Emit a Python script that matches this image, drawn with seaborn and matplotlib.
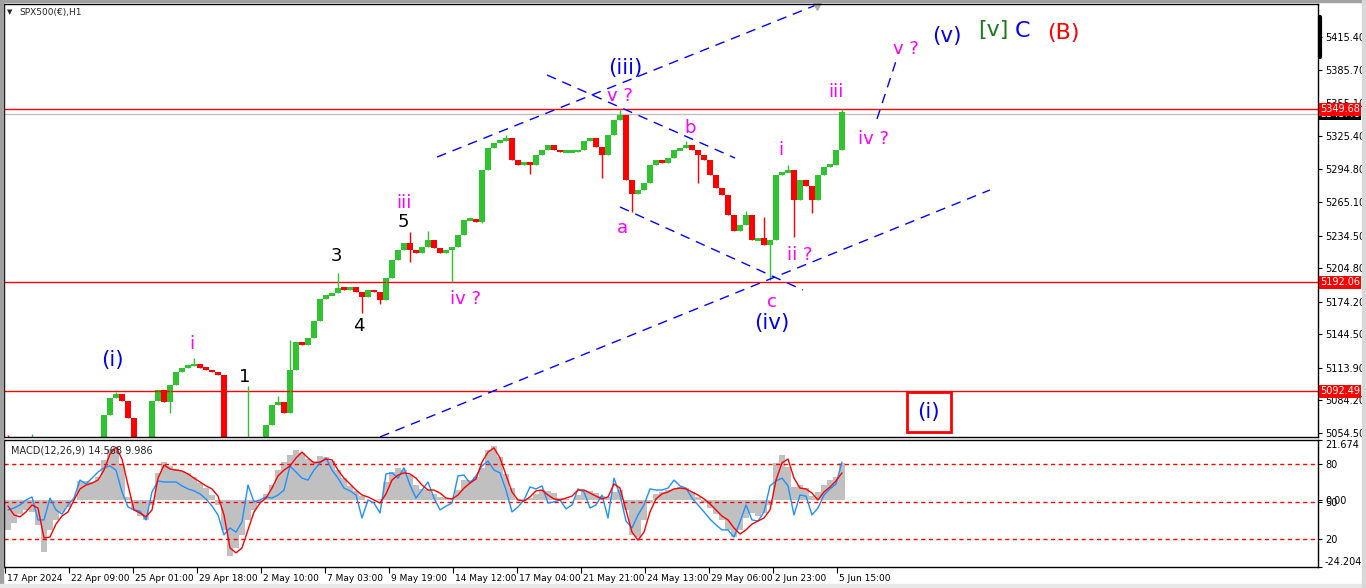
import numpy as np
import pandas as pd
import seaborn as sns
import matplotlib.pyplot as plt
import matplotlib.transforms as mtransforms
from matplotlib.patches import Rectangle

sns.set_style("white")
plt.rcParams['font.family'] = ['DejaVu Sans']

# SPX500(€) H1, grouped into 6-hour candles (close of each block)
first_open = 5045
closes = [
    5040, 5035, 5030, 5038, 5045, 5035, 5025, 5020, 5015, 5020,
    5025, 5030, 5028, 5030, 5035, 5045, 5071, 5086, 5090, 5084,
    5068, 5040, 5030, 5035, 5084, 5094, 5083, 5098, 5110, 5114,
    5116, 5117, 5114, 5112, 5110, 5107, 5045, 5030, 5025, 5028,
    5035, 5030, 5040, 5062, 5080, 5083, 5073, 5112, 5137, 5135,
    5141, 5157, 5177, 5180, 5182, 5187, 5185, 5188, 5183, 5178,
    5185, 5183, 5176, 5196, 5212, 5221, 5228, 5221, 5219, 5224,
    5230, 5223, 5219, 5221, 5224, 5235, 5249, 5249, 5247, 5294,
    5314, 5319, 5321, 5323, 5303, 5299, 5301, 5299, 5308, 5312,
    5317, 5312, 5311, 5311, 5311, 5312, 5321, 5323, 5315, 5308,
    5326, 5340, 5344, 5285, 5272, 5276, 5282, 5299, 5303, 5301,
    5305, 5312, 5314, 5317, 5312, 5308, 5303, 5290, 5278, 5271,
    5253, 5239, 5244, 5253, 5230, 5232, 5226, 5230, 5290, 5292,
    5294, 5267, 5285, 5280, 5267, 5290, 5297, 5299, 5312, 5347,
]
# wicks that stick out of the bodies
spike_idx = [0, 4, 18, 27, 31, 40, 45, 47, 47, 55, 59, 62, 67, 67, 70, 74,
             79, 83, 87, 99, 102, 104, 113, 115, 123, 126, 127, 130, 131, 134, 139]
spike_px = [5053, 5054, 5092, 5073, 5123, 5097, 5088, 5139, 5074, 5200, 5164,
            5172, 5238, 5210, 5239, 5192, 5246, 5326, 5291, 5287, 5348.9, 5256,
            5321, 5282, 5257, 5251, 5193.5, 5299, 5233, 5255, 5349.7]

macd_hist = [
    -10.8, -8.3, -5.0, -3.6, -4.3, -9.0, -18.8, -10.8, -7.2, -4.3,
    -2.5, 0.0, 6.9, 6.9, 6.5, 8.3, 14.5, 18.4, 19.1, 12.6,
    1.1, -3.6, -5.8, -7.2, -1.8, 9.8, 13.7, 12.3, 11.2, 10.5,
    9.8, 8.3, 6.1, 4.3, 1.8, -1.8, -10.8, -20.2, -17.3, -12.6,
    -7.2, -3.6, -0.7, 2.2, 5.4, 10.8, 13.7, 16.3, 18.1, 17.0,
    14.8, 14.1, 15.9, 15.5, 14.1, 10.8, 7.9, 5.1, 3.3, 1.4,
    0.0, 0.0, 0.4, 6.5, 10.1, 11.6, 10.8, 9.0, 5.4, 4.0,
    3.6, 2.2, 1.1, 0.7, 0.7, 3.6, 7.2, 7.2, 8.3, 11.6,
    18.1, 19.5, 15.5, 9.4, 4.3, 0.4, 0.4, 0.7, 2.2, 3.6,
    3.3, 2.5, 0.7, 0.4, 0.0, 1.8, 3.6, 3.3, 2.5, 1.4,
    1.1, 2.9, 3.6, -3.6, -12.6, -13.4, -7.2, -1.1, 2.2, 2.9,
    3.6, 4.0, 4.7, 4.3, 2.9, 1.1, -1.1, -2.9, -5.1, -7.2,
    -10.8, -13.4, -10.8, -6.5, -4.7, -5.8, -4.7, -1.8, 13.4, 16.3,
    11.9, 4.7, 5.4, 4.3, 1.4, 2.9, 5.4, 7.2, 8.3, 13.4,
]
macd_signal = [
    -2.2, -5.4, -6.1, -4.3, -1.8, -2.9, -13.7, -13.4, -8.7, -5.8,
    -4.3, 0.0, 4.0, 5.4, 6.1, 7.2, 10.8, 16.6, 19.1, 14.8,
    5.4, -3.6, -4.7, -6.1, -3.6, 7.9, 12.6, 11.2, 10.8, 10.5,
    9.4, 7.9, 6.5, 5.1, 4.0, 1.4, -5.4, -17.3, -19.1, -17.3,
    -10.8, -4.3, -1.1, 0.7, 4.3, 8.7, 10.8, 12.3, 15.2, 17.3,
    15.2, 13.4, 13.7, 14.8, 14.5, 10.8, 7.9, 5.8, 3.6, 1.8,
    1.1, 0.0, -1.1, 2.2, 7.2, 9.0, 9.8, 9.4, 7.9, 5.4,
    3.6, 3.6, 2.5, 0.7, 0.4, 1.8, 4.3, 6.1, 7.6, 13.7,
    17.3, 18.8, 15.2, 9.0, 2.9, 0.0, -0.4, 1.1, 3.3, 3.6,
    1.8, 0.4, 0.0, 0.7, 1.4, 3.6, 3.6, 2.5, 1.4, 0.4,
    1.1, 5.8, 4.3, -3.6, -11.6, -14.5, -11.6, -4.3, 0.4, 2.2,
    2.9, 4.0, 4.3, 4.0, 2.9, 1.8, 0.4, -1.4, -3.6, -5.8,
    -7.2, -10.1, -12.3, -10.8, -8.7, -7.6, -6.5, -3.6, 7.2, 13.4,
    14.8, 7.9, 4.3, 4.0, 2.5, 0.0, 2.9, 4.7, 6.9, 9.8,
]
macd_fast = [
    -3.6, -2.9, -1.8, 0.0, 1.1, -7.2, -7.2, 0.7, -3.6, -5.1,
    -1.8, 0.7, 7.2, 5.8, 7.9, 10.1, 11.6, 12.3, 10.8, 2.9,
    -2.5, -3.6, -4.0, -7.2, 2.9, 6.9, 6.5, 6.5, 6.5, 5.1,
    4.0, 3.3, 2.2, 0.4, -2.2, -5.4, -12.6, -10.1, -11.6, -7.9,
    5.4, -0.7, 0.0, 1.1, 0.7, 1.8, 3.6, 12.3, 10.1, 7.9,
    7.2, 10.8, 13.4, 15.2, 10.8, 7.9, 4.3, 3.3, 1.8, -6.5,
    0.0, -1.1, -4.7, 9.4, 9.8, 7.9, 11.6, 5.4, 0.7, 3.6,
    6.5, 0.7, -3.6, -2.2, -1.1, 8.7, 9.0, 6.1, 8.7, 12.3,
    14.1, 10.8, 9.8, 3.6, -4.3, -2.5, 0.0, 4.7, 4.0, 5.1,
    -1.1, -0.7, 0.0, -3.2, -1.8, 4.0, 2.9, -2.9, -1.8, 1.8,
    -6.5, 7.9, 1.8, -7.6, -10.1, -5.4, -1.8, 4.0, 3.6, 3.6,
    4.3, 7.2, 5.1, 4.3, 0.7, -1.8, -4.3, -6.9, -9.0, -10.8,
    -10.8, -13.4, -7.9, -1.8, -7.2, -7.6, -4.3, 5.1, 6.9, 7.9,
    5.1, -5.4, 1.8, 1.4, -5.4, -2.9, 1.8, 4.0, 5.8, 13.7,
]
macd_levels = [13.0, -0.7, -14.1]
macd_level_names = ["80", "50", "20"]

date_labels = ["17 Apr 2024", "22 Apr 09:00", "25 Apr 01:00", "29 Apr 18:00",
               "2 May 10:00", "7 May 03:00", "9 May 19:00", "14 May 12:00",
               "17 May 04:00", "21 May 21:00", "24 May 13:00", "29 May 06:00",
               "2 Jun 23:00", "5 Jun 15:00"]
price_ticks = [5415.40, 5385.70, 5355.10, 5325.40, 5294.80, 5265.10, 5234.50,
               5204.80, 5174.20, 5144.50, 5113.90, 5084.20, 5054.50]
level_prices = [5349.68, 5192.06, 5092.49]
bid_price = 5345.48

candle_bars = 6
label_step = 64

W, H = 1366, 588
fig = plt.figure(figsize=(W / 100, H / 100), dpi=100)


def frac(l, t, r, b):
    return [l / W, 1 - b / H, (r - l) / W, (b - t) / H]


ax = fig.add_axes(frac(4, 4, 1318, 437))
ax2 = fig.add_axes(frac(4, 440, 1318, 567))

df = pd.DataFrame({"close": closes})
df["open"] = [first_open] + closes[:-1]
df["x"] = df.index * candle_bars + candle_bars / 2
df["high"] = df[["open", "close"]].max(axis=1)
df["low"] = df[["open", "close"]].min(axis=1)
for i, p in zip(spike_idx, spike_px):
    df.loc[i, "high"] = max(df.loc[i, "high"], p)
    df.loc[i, "low"] = min(df.loc[i, "low"], p)
colors = np.where(df.close >= df.open, "#2fc42f", "#ff0000")

# small bodies still get a couple of pixels so the trace stays unbroken
body = (df.close - df.open).to_numpy(dtype=float)
thin = np.abs(body) < 2.5
body_bottom = np.where(thin, (df.open + df.close) / 2 - 1.25, df.open)
body_h = np.where(thin, 2.5, body)

ax.vlines(df.x, df.low, df.high, colors=colors, lw=1)
ax.bar(df.x, body_h, bottom=body_bottom, width=5.5, color=colors, linewidth=0)

for p in level_prices:
    ax.axhline(p, color="red", lw=1, zorder=1)
ax.axhline(bid_price, color="#c0c0c0", lw=1, zorder=0.9)

# trend channels
blue_dash = dict(color="#0000ff", lw=1, ls=(0, (7, 5)))
channels = [((432, 5306.0), (815, 5446.0)),
            ((375, 5050.9), (985, 5276.0)),
            ((542, 5380.8), (730, 5305.1)),
            ((615, 5260.5), (798, 5184.8)),
            ((872, 5340.7), (892, 5396.3))]
for (x0, y0), (x1, y1) in channels:
    ax.plot([x0, x1], [y0, y1], **blue_dash)

MAG, BLU, BLK = "#ff00ff", "#0000ee", "black"
wave_labels = [
    ("(i)", 107, 5121.0, BLU, 15.5), ("i", 187, 5135.6, MAG, 13),
    ("1", 240, 5105.5, BLK, 13), ("3", 331, 5215.8, BLK, 13),
    ("4", 354, 5152.0, BLK, 13), ("5", 398, 5246.8, BLK, 13),
    ("iii", 399, 5264.1, MAG, 13), ("iv ?", 461, 5176.6, MAG, 13),
    ("(iii)", 620, 5387.2, BLU, 15.5), ("v ?", 615, 5361.6, MAG, 13),
    ("b", 685, 5332.5, MAG, 13), ("a", 617, 5241.3, MAG, 13),
    ("i", 776, 5312.4, MAG, 13), ("ii ?", 795, 5216.7, MAG, 13),
    ("c", 767, 5173.9, MAG, 13), ("(iv)", 767, 5154.8, BLU, 15.5),
    ("iii", 831, 5365.3, MAG, 13), ("iv ?", 868, 5322.5, MAG, 13),
    ("v ?", 901, 5404.5, MAG, 13), ("(v)", 942, 5416.3, BLU, 15.5),
    ("[v]", 988, 5421.8, "#1c7a1c", 16), ("C", 1017, 5420.9, "#0000ff", 16),
    ("(B)", 1058, 5419.1, "#ff0000", 16), ("(i)", 923, 5073.6, BLU, 15.5),
]
for t, x, y, c, s in wave_labels:
    ax.text(x, y, t, color=c, fontsize=s, ha="center", va="center", zorder=5)
ax.add_patch(Rectangle((902, 5055.4), 44, 36.5, fill=False, ec="red", lw=2, zorder=5))

ax.set_xlim(-1, 1313)
ax.set_ylim(5050.85, 5445.5)
ax.yaxis.tick_right()
ax.set_yticks(price_ticks)
ax.set_yticklabels([f"{p:.2f}" for p in price_ticks])
ax.tick_params(axis="y", right=True, left=False, length=3, pad=2, labelsize=7, colors="black")
ax.tick_params(axis="x", bottom=False, labelbottom=False)

# price tags on the right scale
bt = mtransforms.blended_transform_factory(ax.transAxes, ax.transData)
ax.annotate(f"{bid_price:.2f}", xy=(1, bid_price), xycoords=bt, xytext=(2, 0),
            textcoords="offset pixels", va="center", ha="left", fontsize=7, color="white",
            bbox=dict(boxstyle="square,pad=0.1", fc="black", ec="none"), annotation_clip=False, zorder=6)
for p in level_prices:
    ax.annotate(f"{p:.2f}", xy=(1, p), xycoords=bt, xytext=(2, 0),
                textcoords="offset pixels", va="center", ha="left", fontsize=7, color="white",
                bbox=dict(boxstyle="square,pad=0.15", fc="red", ec="none"), annotation_clip=False, zorder=7)
ax.plot([1.0015, 1.0015], [5397.0, 5434.0], transform=bt, color="black", lw=3, clip_on=False)
ax.plot([812], [5443.5], marker="v", color="#b0b0b0", ms=6, clip_on=False)

# MACD window
ax2.bar(df.x, macd_hist, width=candle_bars, color="#c0c0c0", linewidth=0)
for v in macd_levels:
    ax2.axhline(v, color="red", lw=1, ls=(0, (3, 2.5)))
sns.lineplot(x=df.x, y=macd_fast, ax=ax2, color="#1e90ff", lw=1)
sns.lineplot(x=df.x, y=macd_signal, ax=ax2, color="red", lw=1)
ax2.set_xlabel("")
ax2.set_ylabel("")
ax2.set_xlim(-1, 1313)
ax2.set_ylim(-24.204, 21.674)
ax2.yaxis.tick_right()
mticks = [21.674, macd_levels[0], macd_levels[1], 0.0, macd_levels[2], -24.204]
ax2.set_yticks(mticks)
ax2.set_yticklabels(["21.674", macd_level_names[0], macd_level_names[1], "0.00",
                     macd_level_names[2], "-24.204"])
ax2.tick_params(axis="y", right=True, left=False, length=3, pad=2, labelsize=7, colors="black")
labs = ax2.get_yticklabels()
labs[0].set_va("top")
labs[-1].set_va("bottom")
ax2.set_xticks(np.arange(len(date_labels)) * label_step)
ax2.set_xticklabels(date_labels, ha="left")
ax2.tick_params(axis="x", bottom=True, length=4, pad=1, labelsize=6.5, colors="black")
shift = mtransforms.ScaledTranslation(2 / 100, 0, fig.dpi_scale_trans)
for lbl in ax2.get_xticklabels():
    lbl.set_transform(lbl.get_transform() + shift)
ax2.text(0.005, 0.96, "MACD(12,26,9) 14.568 9.986", transform=ax2.transAxes,
         fontsize=7, va="top", ha="left")

for a in (ax, ax2):
    for s in a.spines.values():
        s.set_color("black")
        s.set_linewidth(1)

# window chrome and title
fig.patches.append(Rectangle((0, 0), 3 / W, 1, transform=fig.transFigure, color="#a0a0a0"))
fig.patches.append(Rectangle((0, 1 - 2 / H), 1, 2 / H, transform=fig.transFigure, color="#a0a0a0"))
fig.patches.append(Rectangle((0, 0), 1, 4 / H, transform=fig.transFigure, color="#e8e8e8"))
fig.patches.append(Rectangle((1 - 4 / W, 0), 4 / W, 1, transform=fig.transFigure, color="#d8d8d8"))
fig.text(10 / W, 1 - 12 / H, "\u25bc", fontsize=5, va="center", ha="center")
fig.text(19 / W, 1 - 12 / H, "SPX500(\u20ac),H1", fontsize=6.5, va="center", ha="left")

fig.savefig("out.png", dpi=100)
